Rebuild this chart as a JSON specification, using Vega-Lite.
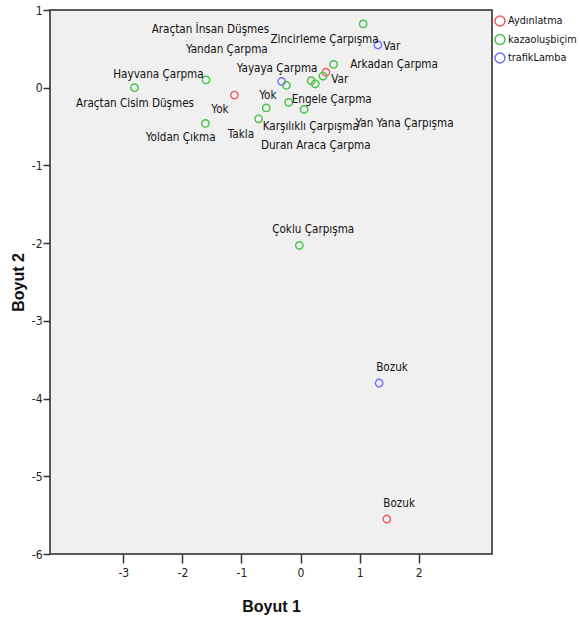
{
  "$schema": "https://vega.github.io/schema/vega-lite/v6.json",
  "width": 442,
  "height": 544,
  "autosize": {"type": "none"},
  "padding": {"left": 50, "top": 10, "right": 88, "bottom": 67},
  "background": "white",
  "config": {
    "view": {"fill": "#f0f0f0", "stroke": "#5a5a5a", "strokeWidth": 2},
    "font": "'DejaVu Sans Condensed', 'Liberation Sans', sans-serif"
  },
  "data": {
    "values": [
      {"group": "Aydınlatma", "label": "Yok", "x": -1.12, "y": -0.095, "lx": -1.51, "ly": -0.28},
      {"group": "Aydınlatma", "label": "Var", "x": 0.43, "y": 0.2, "lx": 0.52, "ly": 0.11},
      {"group": "Aydınlatma", "label": "Bozuk", "x": 1.46, "y": -5.55, "lx": 1.4, "ly": -5.34},
      {"group": "trafikLamba", "label": "Var", "x": 1.31, "y": 0.55, "lx": 1.4, "ly": 0.54},
      {"group": "trafikLamba", "label": "Yok", "x": -0.32, "y": 0.08, "lx": -0.7, "ly": -0.1},
      {"group": "trafikLamba", "label": "Bozuk", "x": 1.33, "y": -3.8, "lx": 1.28, "ly": -3.6},
      {"group": "kazaoluşbiçim", "label": "Zincirleme Çarpışma", "x": 1.06, "y": 0.82, "lx": -0.51, "ly": 0.63},
      {"group": "kazaoluşbiçim", "label": "Arkadan Çarpma", "x": 0.56, "y": 0.3, "lx": 0.84, "ly": 0.31},
      {"group": "kazaoluşbiçim", "label": "Araçtan İnsan Düşmes", "x": 0.38, "y": 0.15, "lx": -2.52, "ly": 0.76},
      {"group": "kazaoluşbiçim", "label": "Yandan Çarpma", "x": 0.18, "y": 0.09, "lx": -1.94, "ly": 0.5},
      {"group": "kazaoluşbiçim", "label": "Duran Araca Çarpma", "x": 0.25, "y": 0.05, "lx": -0.67, "ly": -0.74},
      {"group": "kazaoluşbiçim", "label": "Yayaya Çarpma", "x": -0.24, "y": 0.03, "lx": -1.08, "ly": 0.26},
      {"group": "kazaoluşbiçim", "label": "Engele Çarpma", "x": -0.2, "y": -0.19, "lx": -0.15, "ly": -0.14},
      {"group": "kazaoluşbiçim", "label": "Yan Yana Çarpışma", "x": 0.06, "y": -0.28, "lx": 0.93, "ly": -0.46},
      {"group": "kazaoluşbiçim", "label": "Karşılıklı Çarpışma", "x": -0.58, "y": -0.26, "lx": -0.64, "ly": -0.49},
      {"group": "kazaoluşbiçim", "label": "Takla", "x": -0.71, "y": -0.4, "lx": -1.23, "ly": -0.59},
      {"group": "kazaoluşbiçim", "label": "Yoldan Çıkma", "x": -1.61, "y": -0.46, "lx": -2.62, "ly": -0.64},
      {"group": "kazaoluşbiçim", "label": "Hayvana Çarpma", "x": -1.6, "y": 0.1, "lx": -3.17, "ly": 0.18},
      {"group": "kazaoluşbiçim", "label": "Araçtan Cisim Düşmes", "x": -2.81, "y": 0.0, "lx": -3.8, "ly": -0.2},
      {"group": "kazaoluşbiçim", "label": "Çoklu Çarpışma", "x": -0.02, "y": -2.03, "lx": -0.48, "ly": -1.82}
    ]
  },
  "layer": [
    {
      "mark": {"type": "point", "shape": "circle", "filled": false, "size": 55, "strokeWidth": 1.4, "opacity": 1},
      "encoding": {
        "x": {
          "field": "x", "type": "quantitative",
          "scale": {"domain": [-4.24, 3.24], "nice": false, "zero": false},
          "axis": {
            "title": "Boyut 1", "values": [-3, -2, -1, 0, 1, 2], "grid": false, "domain": false,
            "labelExpr": "datum.value < 0 ? '-' + abs(datum.value) : '' + datum.value",
            "tickColor": "#333", "tickWidth": 1.5, "tickSize": 9, "labelPadding": 4,
            "labelFontSize": 12, "labelColor": "#222",
            "titleFontSize": 16, "titleFontWeight": "bold", "titleColor": "#111",
            "titleFont": "'Liberation Sans', Arial, sans-serif",
            "titleX": 221, "titleY": 52, "titleBaseline": "middle"
          }
        },
        "y": {
          "field": "y", "type": "quantitative",
          "scale": {"domain": [-6, 1], "nice": false, "zero": false},
          "axis": {
            "title": "Boyut 2", "values": [-6, -5, -4, -3, -2, -1, 0, 1], "grid": false, "domain": false,
            "labelExpr": "datum.value < 0 ? '-' + abs(datum.value) : '' + datum.value",
            "tickColor": "#333", "tickWidth": 1.5, "tickSize": 7, "labelPadding": 1,
            "labelFontSize": 12, "labelColor": "#222",
            "titleFontSize": 16, "titleFontWeight": "bold", "titleColor": "#111",
            "titleFont": "'Liberation Sans', Arial, sans-serif",
            "titleX": -32, "titleY": 272, "titleBaseline": "middle"
          }
        },
        "color": {
          "field": "group", "type": "nominal",
          "scale": {"domain": ["Aydınlatma", "kazaoluşbiçim", "trafikLamba"], "range": ["#f05a5a", "#46c346", "#6e6eff"]},
          "legend": {
            "title": null, "orient": "none", "legendX": 444, "legendY": 5,
            "symbolType": "circle", "symbolSize": 100, "symbolStrokeWidth": 1.5, "symbolFillColor": "transparent",
            "labelFontSize": 10.8, "labelColor": "#111", "labelOffset": 2, "rowPadding": 2.5, "padding": 0, "labelLimit": 200
          }
        }
      }
    },
    {
      "mark": {"type": "text", "align": "left", "baseline": "middle", "fontSize": 11.6, "color": "#111", "dy": 1},
      "encoding": {
        "x": {"field": "lx", "type": "quantitative"},
        "y": {"field": "ly", "type": "quantitative"},
        "text": {"field": "label", "type": "nominal"}
      }
    }
  ]
}
